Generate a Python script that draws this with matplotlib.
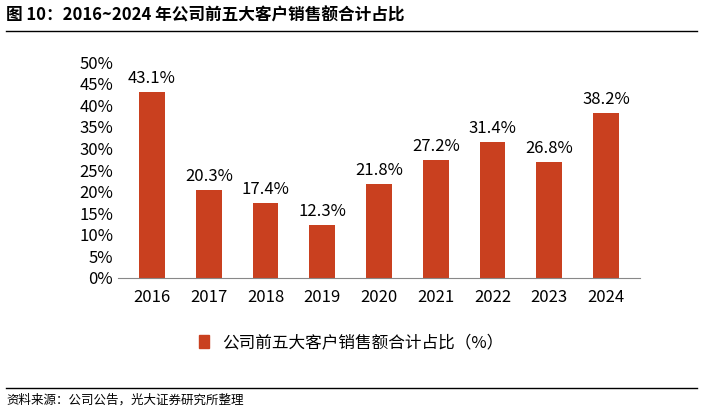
import matplotlib
matplotlib.use("Agg")
import matplotlib.pyplot as plt
from matplotlib.lines import Line2D

plt.rcParams["font.family"] = ["Noto Sans CJK SC", "DejaVu Sans"]

years = ["2016", "2017", "2018", "2019", "2020", "2021", "2022", "2023", "2024"]
values = [43.1, 20.3, 17.4, 12.3, 21.8, 27.2, 31.4, 26.8, 38.2]
yticks = [0, 5, 10, 15, 20, 25, 30, 35, 40, 45, 50]
series_name = "公司前五大客户销售额合计占比（%）"
color = "#C9401F"

W, H = 703, 411
fig = plt.figure(figsize=(W/100, H/100), dpi=100)
ax = fig.add_axes([118/W, 1-278/H, (640-118)/W, (278-62)/H])
bars = ax.bar(years, values, width=0.45, color=color, label=series_name)
for b, v in zip(bars, values):
    ax.text(b.get_x()+b.get_width()/2, v+1.2, f"{v:.1f}%", ha="center", va="bottom", fontsize=12)
ax.set_ylim(0, 50)
ax.set_yticks(yticks)
ax.set_yticklabels([f"{t}%" for t in yticks], fontsize=12)
ax.tick_params(axis="x", labelsize=12, length=0, pad=8)
ax.tick_params(axis="y", length=0)
for s in ["top", "right", "left"]:
    ax.spines[s].set_visible(False)
ax.spines["bottom"].set_color("#888888")
ax.set_xlim(-0.6, 8.6)

fig.legend(handles=[plt.Rectangle((0, 0), 1, 1, color=color)], labels=[series_name],
           loc="center", bbox_to_anchor=(0.5, 1-343/H), frameon=False, fontsize=12,
           handlelength=0.6, handleheight=0.8)

fig.text(6/W, 1-16/H, "图 10：2016~2024 年公司前五大客户销售额合计占比", fontsize=12,
         fontweight="bold", va="center", ha="left")
fig.add_artist(Line2D([6/W, 697/W], [1-31/H, 1-31/H], color="black", lw=1))
fig.add_artist(Line2D([6/W, 697/W], [1-388/H, 1-388/H], color="black", lw=1))
fig.text(6/W, 1-400/H, "资料来源：公司公告，光大证券研究所整理", fontsize=9, va="center", ha="left")

fig.savefig("out.png", dpi=100)
